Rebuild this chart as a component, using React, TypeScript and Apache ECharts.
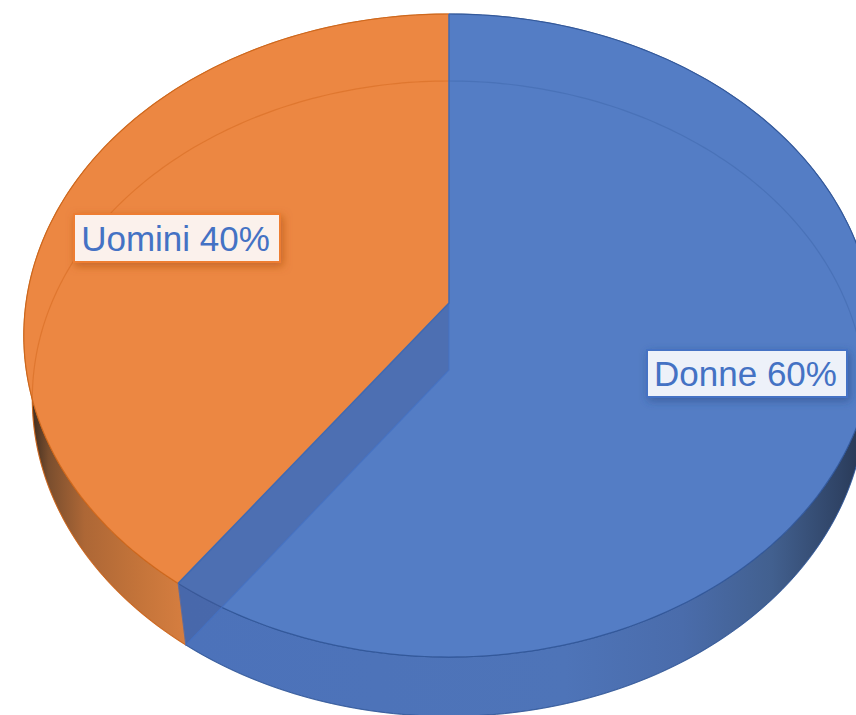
import React, { useEffect, useRef } from "react";
import * as echarts from "echarts";

const categories = ["Donne", "Uomini"];
const shares = [60, 40];
const labelTexts = ["Donne 60%", "Uomini 40%"];

const CX = 449;
// Perspective projection of the pie's upper and lower circular faces
const TOP = { r: 423, a: 303, b: 287.6, c: -0.1011 };
const BASE = { r: 415, a: 370, b: 281.7, c: -0.0903 };

type Plane = typeof TOP;

function project(deg: number, p: Plane): number[] {
  const t = (deg * Math.PI) / 180;
  const u = Math.sin(t);
  const v = -Math.cos(t);
  const w = 1 + p.c * v;
  return [CX + (p.r * u) / w, (p.a + p.b * v) / w];
}

function arc(from: number, to: number, p: Plane): number[][] {
  const pts: number[][] = [];
  const n = Math.max(2, Math.ceil(Math.abs(to - from)));
  for (let i = 0; i <= n; i++) pts.push(project(from + ((to - from) * i) / n, p));
  return pts;
}

const grad = (x1: number, x2: number, stops: [number, string][]) =>
  new echarts.graphic.LinearGradient(
    x1, 0, x2, 0,
    stops.map(([offset, color]) => ({ offset, color })),
    true
  );

const looks = [
  {
    top: "#547DC5",
    edge: "rgba(47,85,151,0.85)",
    innerLine: "rgba(47,85,151,0.28)",
    wall: () =>
      grad(186, 875, [
        [0, "#4C72BA"],
        [0.55, "#4E74B8"],
        [0.72, "#4A6CAB"],
        [0.85, "#42608F"],
        [0.95, "#2F4365"],
        [1, "#24324C"],
      ]),
    box: { x: 647, y: 350, width: 200, height: 47 },
    boxFill: "#EDF1F9",
    boxStroke: "#4472C4",
    shadow: "rgba(40,70,130,0.55)",
  },
  {
    top: "#EC8742",
    edge: "rgba(203,100,24,0.85)",
    innerLine: "rgba(205,95,20,0.4)",
    wall: () =>
      grad(30, 186, [
        [0, "#3A2A1E"],
        [0.12, "#7A4E2E"],
        [0.35, "#AD6736"],
        [0.7, "#C4743A"],
        [1, "#D67E40"],
      ]),
    box: { x: 74, y: 214, width: 206, height: 48 },
    boxFill: "#FBF1EC",
    boxStroke: "#ED7D31",
    shadow: "rgba(170,80,20,0.6)",
  },
];

function renderItem(params: any, api: any) {
  const i = params.dataIndex;
  const total = shares.reduce((s, x) => s + x, 0);
  const before = shares.slice(0, i).reduce((s, x) => s + x, 0);
  const start = (before / total) * 360;
  const end = start + (api.value(0) / total) * 360;
  const look = looks[i];
  const topArc = arc(start, end, TOP);
  const baseArc = arc(start, end, BASE);
  const topVertex = [CX, TOP.a];
  const baseVertex = [CX, BASE.a];
  const children: any[] = [];

  children.push({
    type: "polygon",
    z2: 1,
    shape: { points: [...topArc, ...baseArc.slice().reverse()] },
    style: { fill: look.wall(), stroke: look.edge, lineWidth: 1 },
  });
  children.push({
    type: "polygon",
    z2: 2,
    shape: { points: [topVertex, ...topArc] },
    style: { fill: look.top },
  });
  children.push({
    type: "polyline",
    z2: 3,
    shape: { points: baseArc },
    style: { fill: "none", stroke: look.innerLine, lineWidth: 1.2 },
  });
  children.push({
    type: "polyline",
    z2: 4,
    shape: { points: topArc },
    style: { fill: "none", stroke: look.edge, lineWidth: 1.2 },
  });

  if (i === 0) {
    const endTop = project(end, TOP);
    const endBase = project(end, BASE);
    children.push({
      type: "polygon",
      z2: 5,
      shape: { points: [topVertex, baseVertex, endBase, endTop] },
      style: { fill: "rgba(68,90,150,0.4)" },
    });
    children.push({
      type: "polyline",
      z2: 6,
      shape: { points: [topVertex, baseVertex, endBase, endTop] },
      style: { fill: "none", stroke: "rgba(68,114,196,0.75)", lineWidth: 1.2 },
    });
    children.push({
      type: "polyline",
      z2: 7,
      shape: { points: [project(0, TOP), topVertex, endTop] },
      style: { fill: "none", stroke: "#3F69B2", lineWidth: 1.5 },
    });
  }

  children.push({
    type: "rect",
    z2: 20,
    shape: look.box,
    style: {
      fill: look.boxFill,
      stroke: look.boxStroke,
      lineWidth: 2,
      shadowBlur: 9,
      shadowOffsetX: 2,
      shadowOffsetY: 3,
      shadowColor: look.shadow,
    },
  });
  children.push({
    type: "text",
    z2: 21,
    style: {
      x: look.box.x + look.box.width / 2 - 1.5,
      y: look.box.y + look.box.height / 2,
      text: labelTexts[i],
      fill: "#4472C4",
      font: '35px "Liberation Sans", Arial, sans-serif',
      align: "center",
      verticalAlign: "middle",
    },
  });

  return { type: "group", children };
}

export default function App() {
  const ref = useRef<HTMLDivElement>(null);
  useEffect(() => {
    document.body.style.margin = "0";
    document.body.style.overflow = "hidden";
    const chart = echarts.init(ref.current!, null, { renderer: "svg" });
    chart.setOption({
      animation: false,
      backgroundColor: "#ffffff",
      series: [
        {
          type: "custom",
          coordinateSystem: "none",
          clip: false,
          renderItem,
          data: categories.map((name, i) => ({ name, value: [shares[i]] })),
        },
      ],
    });
    return () => chart.dispose();
  }, []);
  return <div ref={ref} style={{ width: 856, height: 715 }} />;
}
